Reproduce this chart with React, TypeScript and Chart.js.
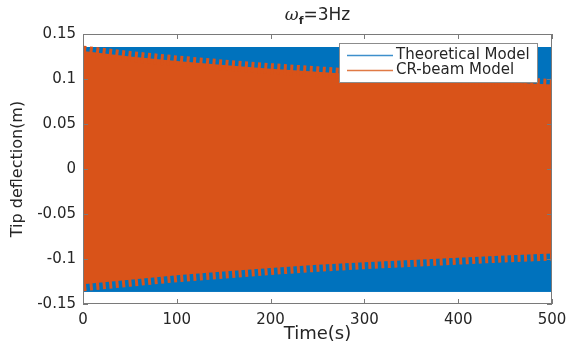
import React, { useEffect, useRef } from "react";
import { Chart, registerables } from "chart.js";

Chart.register(...registerables);

// ---- data ----
const timeKnots = [0, 50, 100, 150, 200, 250, 300, 350, 400, 450, 500];
// inner edge (troughs of the beat ripple) of the CR-beam response band
const crUpper = [0.131, 0.125, 0.12, 0.1155, 0.1115, 0.108, 0.1045, 0.1015, 0.099, 0.0965, 0.094];
const crLower = [-0.128, -0.123, -0.118, -0.114, -0.11, -0.1065, -0.1035, -0.101, -0.0985, -0.096, -0.094];
const theoTime = [0, 500];
const theoUpper = [0.135, 0.135];
const theoLower = [-0.136, -0.136];
const xTicks = [0, 100, 200, 300, 400, 500];
const yTicks = [-0.15, -0.1, -0.05, 0, 0.05, 0.1, 0.15];
const seriesNames = ["Theoretical Model", "CR-beam Model"];
const titleParts = ["ω", "f", "=3Hz"];
const xTitle = "Time(s)";
const yTitle = "Tip deflection(m)";

const BLUE = "#0072BD";
const ORANGE = "#D95319";
const AXIS = "#7a7a7a";
const TEXT = "#262626";
const FONT = "DejaVu Sans";

const pts = (xs: number[], ys: number[]) => xs.map((x, i) => ({ x, y: ys[i] }));

const decorPlugin = {
  id: "decor",
  afterDraw(chart: any) {
    const { ctx, chartArea } = chart;
    const { left, right, top, bottom } = chartArea;
    const xs = chart.scales.x;
    const ys = chart.scales.y;
    ctx.save();
    // box
    ctx.strokeStyle = AXIS;
    ctx.lineWidth = 1;
    ctx.setLineDash([]);
    ctx.strokeRect(left + 0.5, top + 0.5, right - left - 1, bottom - top - 1);
    // inward ticks
    const tl = 5;
    ctx.beginPath();
    xTicks.forEach((v) => {
      const px = Math.round(xs.getPixelForValue(v)) + 0.5;
      ctx.moveTo(px, bottom);
      ctx.lineTo(px, bottom - tl);
      ctx.moveTo(px, top);
      ctx.lineTo(px, top + tl);
    });
    yTicks.forEach((v) => {
      const py = Math.round(ys.getPixelForValue(v)) + 0.5;
      ctx.moveTo(left, py);
      ctx.lineTo(left + tl, py);
      ctx.moveTo(right, py);
      ctx.lineTo(right - tl, py);
    });
    ctx.stroke();

    // legend
    const bw = 198;
    const bh = 39;
    const bx = Math.round(right - 15 - bw);
    const by = Math.round(top + 9);
    ctx.fillStyle = "#ffffff";
    ctx.fillRect(bx, by, bw, bh);
    ctx.strokeStyle = "#8c8c8c";
    ctx.lineWidth = 1;
    ctx.strokeRect(bx + 0.5, by + 0.5, bw, bh);
    const colors = ["#3d8fcc", "#e07a45"];
    ctx.font = `15px "${FONT}"`;
    ctx.textBaseline = "middle";
    ctx.textAlign = "left";
    seriesNames.forEach((name, i) => {
      const yy = by + 12 + i * 15;
      ctx.strokeStyle = colors[i];
      ctx.lineWidth = 1.3;
      ctx.beginPath();
      ctx.moveTo(bx + 8, yy + 0.5);
      ctx.lineTo(bx + 54, yy + 0.5);
      ctx.stroke();
      ctx.fillStyle = TEXT;
      ctx.fillText(name, bx + 57, yy);
    });

    // title
    const cx = (left + right) / 2;
    const ty = 15;
    const f1 = `italic 17px "DejaVu Serif"`;
    const f2 = `bold 11px "${FONT}"`;
    const f3 = `17px "${FONT}"`;
    ctx.font = f1;
    const w1 = ctx.measureText(titleParts[0]).width;
    ctx.font = f2;
    const w2 = ctx.measureText(titleParts[1]).width;
    ctx.font = f3;
    const w3 = ctx.measureText(titleParts[2]).width;
    let x0 = cx - (w1 + w2 + w3) / 2;
    ctx.fillStyle = TEXT;
    ctx.textBaseline = "alphabetic";
    ctx.font = f1;
    ctx.fillText(titleParts[0], x0, ty + 5);
    x0 += w1;
    ctx.font = f2;
    ctx.fillText(titleParts[1], x0, ty + 9);
    x0 += w2;
    ctx.font = f3;
    ctx.fillText(titleParts[2], x0, ty + 5);
    ctx.restore();
  },
};

const fmt = (v: number) => {
  const r = Math.round(v * 100) / 100;
  return r === 0 ? "0" : String(r);
};

export default function App() {
  const ref = useRef<HTMLCanvasElement | null>(null);
  useEffect(() => {
    if (!ref.current) return;
    const chart = new Chart(ref.current, {
      type: "line",
      data: {
        datasets: [
          {
            label: seriesNames[1] + " upper",
            data: pts(timeKnots, crUpper),
            borderColor: ORANGE,
            backgroundColor: ORANGE,
            borderWidth: 11,
            borderDash: [3, 3.5],
            pointRadius: 0,
            fill: "+1",
            order: 1,
          },
          {
            label: seriesNames[1] + " lower",
            data: pts(timeKnots, crLower),
            borderColor: ORANGE,
            backgroundColor: ORANGE,
            borderWidth: 14,
            borderDash: [3, 3.5],
            pointRadius: 0,
            fill: false,
            order: 1,
          },
          {
            label: seriesNames[0] + " upper",
            data: pts(theoTime, theoUpper),
            borderColor: BLUE,
            backgroundColor: BLUE,
            borderWidth: 1,
            pointRadius: 0,
            fill: "+1",
            order: 2,
          },
          {
            label: seriesNames[0] + " lower",
            data: pts(theoTime, theoLower),
            borderColor: BLUE,
            backgroundColor: BLUE,
            borderWidth: 1,
            pointRadius: 0,
            fill: false,
            order: 2,
          },
        ],
      },
      options: {
        animation: false,
        responsive: true,
        maintainAspectRatio: false,
        layout: { padding: { top: 34, right: 16, left: 0, bottom: 0 } },
        plugins: {
          legend: { display: false },
          tooltip: { enabled: false },
          title: { display: false },
        },
        scales: {
          x: {
            type: "linear",
            min: 0,
            max: 500,
            afterBuildTicks: (s: any) => {
              s.ticks = xTicks.map((v) => ({ value: v }));
            },
            afterFit: (s: any) => {
              s.height = 43;
              s.paddingLeft = 0;
              s.paddingRight = 0;
            },
            grid: { display: false, drawTicks: false, tickLength: 0 },
            border: { display: false },
            ticks: {
              padding: 7,
              color: TEXT,
              font: { family: FONT, size: 15 },
              maxRotation: 0,
              autoSkip: false,
              callback: (v: any) => String(v),
            },
            title: {
              display: true,
              text: xTitle,
              color: TEXT,
              font: { family: FONT, size: 18 },
              padding: { top: 0, bottom: 2 },
            },
          },
          y: {
            type: "linear",
            min: -0.15,
            max: 0.15,
            afterBuildTicks: (s: any) => {
              s.ticks = yTicks.map((v) => ({ value: v }));
            },
            afterFit: (s: any) => {
              s.width = 83;
              s.paddingTop = 0;
              s.paddingBottom = 0;
            },
            grid: { display: false, drawTicks: false, tickLength: 0 },
            border: { display: false },
            ticks: {
              padding: 7,
              color: TEXT,
              font: { family: FONT, size: 15 },
              autoSkip: false,
              callback: (v: any) => fmt(Number(v)),
            },
            title: {
              display: true,
              text: yTitle,
              color: TEXT,
              font: { family: FONT, size: 16 },
              padding: { top: 8, bottom: 0 },
            },
          },
        },
      },
      plugins: [decorPlugin],
    });
    return () => chart.destroy();
  }, []);
  return (
    <div style={{ position: "absolute", left: 0, top: 0, width: 568, height: 347, background: "#fff" }}>
      <canvas ref={ref} />
    </div>
  );
}
